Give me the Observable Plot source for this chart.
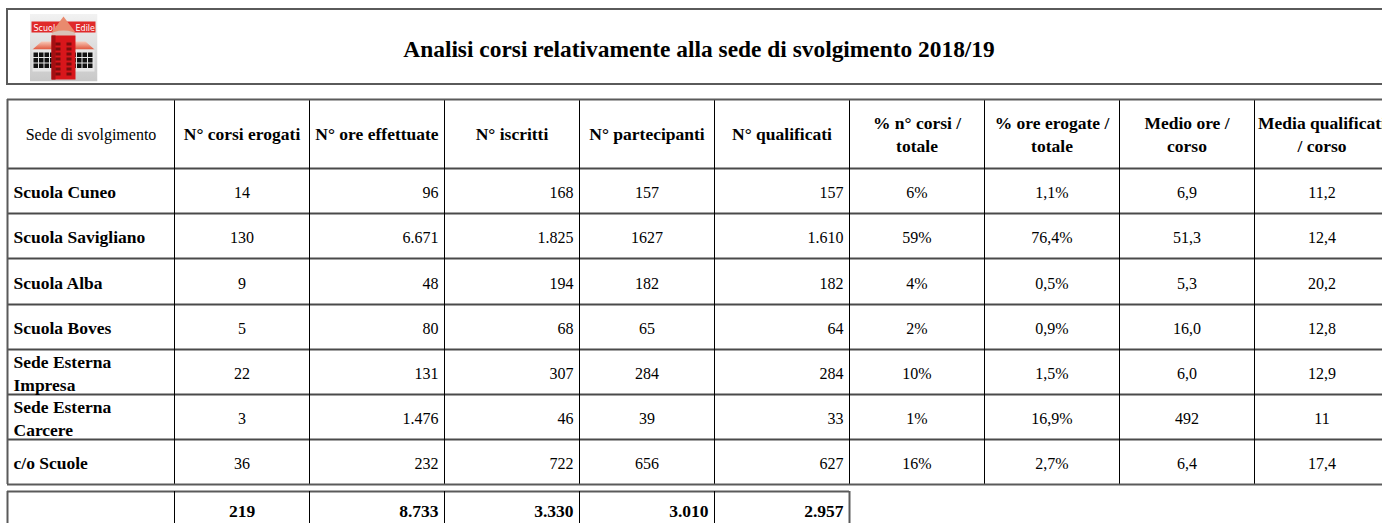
<!DOCTYPE html>
<html>
<head>
<meta charset="utf-8">
<script src="https://cdn.jsdelivr.net/npm/d3@7"></script>
<script src="https://cdn.jsdelivr.net/npm/@observablehq/plot@0.6"></script>
<style>
  html, body { margin: 0; padding: 0; background: #fff; }
  #chart svg { display: block; }
</style>
</head>
<body>
<div id="chart"></div>
<script>
// ---------- DATA ----------
const title = "Analisi corsi relativamente alla sede di svolgimento 2018/19";
const headers = [
  "Sede di svolgimento", "N° corsi erogati", "N° ore effettuate", "N° iscritti",
  "N° partecipanti", "N° qualificati", "% n° corsi /\ntotale", "% ore erogate /\ntotale",
  "Medio ore /\ncorso", "Media qualificati\n/ corso"
];
const sedi = ["Scuola Cuneo", "Scuola Savigliano", "Scuola Alba", "Scuola Boves",
  "Sede Esterna\nImpresa", "Sede Esterna\nCarcere", "c/o Scuole"];
const corsiErogati = ["14", "130", "9", "5", "22", "3", "36"];
const oreEffettuate = ["96", "6.671", "48", "80", "131", "1.476", "232"];
const iscritti = ["168", "1.825", "194", "68", "307", "46", "722"];
const partecipanti = ["157", "1627", "182", "65", "284", "39", "656"];
const qualificati = ["157", "1.610", "182", "64", "284", "33", "627"];
const pctCorsi = ["6%", "59%", "4%", "2%", "10%", "1%", "16%"];
const pctOre = ["1,1%", "76,4%", "0,5%", "0,9%", "1,5%", "16,9%", "2,7%"];
const medioOre = ["6,9", "51,3", "5,3", "16,0", "6,0", "492", "6,4"];
const mediaQualificati = ["11,2", "12,4", "20,2", "12,8", "12,9", "11", "17,4"];
const totali = ["", "219", "8.733", "3.330", "3.010", "2.957"];

// ---------- LAYOUT ----------
const colWidths = [167, 135, 135, 135, 135, 135, 135, 135, 135, 135];
const left = 7;
const edges = colWidths.reduce((a, w) => (a.push(a[a.length - 1] + w), a), [left]);
const align = ["start", "middle", "end", "end", "middle", "end", "middle", "middle", "middle", "middle"];
const totAlign = ["start", "middle", "end", "end", "end", "end"];
const pad = 6;
const tableTop = 99, headerBottom = 168, rowH = 45.2;
const rowEdges = d3.range(sedi.length + 1).map(i => Math.round(headerBottom + i * rowH));
const totalTop = 491, totalBottom = 540;
const titleTop = 9, titleBottom = 84, titleRight = 1390;
const font = "'Times New Roman', 'Liberation Serif', serif";
const fsize = {normal: 16, bold: 17.5};

const columns = [sedi, corsiErogati, oreEffettuate, iscritti, partecipanti, qualificati,
  pctCorsi, pctOre, medioOre, mediaQualificati];

function xFor(c, a) {
  if (a === "start") return edges[c] + pad;
  if (a === "end") return edges[c + 1] - pad;
  return (edges[c] + edges[c + 1]) / 2;
}

// Cells
const cells = [];
headers.forEach((h, c) => cells.push({text: h, x: (edges[c] + edges[c + 1]) / 2, y: (tableTop + headerBottom) / 2 - 1, anchor: "middle", weight: c > 0 ? "bold" : "normal"}));
columns.forEach((col, c) => col.forEach((v, r) => {
  cells.push({text: v, x: xFor(c, align[c]), y: (rowEdges[r] + rowEdges[r + 1]) / 2, anchor: align[c], weight: c === 0 ? "bold" : "normal"});
}));
totali.forEach((v, c) => cells.push({text: v, x: xFor(c, totAlign[c]), y: totalTop + 18, anchor: totAlign[c], weight: "bold"}));

const textMarks = [];
for (const anchor of ["start", "middle", "end"]) for (const weight of ["normal", "bold"]) {
  const subset = cells.filter(d => d.anchor === anchor && d.weight === weight && d.text !== "");
  if (subset.length) textMarks.push(Plot.text(subset, {x: "x", y: "y", text: "text", fontSize: fsize[weight],
    lineHeight: 23 / fsize[weight], textAnchor: anchor, fontWeight: weight, fill: "#000", fontFamily: font}));
}

// Lines
const right = edges[edges.length - 1];
const bottom = rowEdges[rowEdges.length - 1];
const hLines = rowEdges.slice(0, -1);
const vLines = edges.slice(1, -1);
const totV = edges.slice(1, 6);

// Logo (drawn as inline SVG image)
const win = (x0, y0) => {
  let s = "";
  for (let r = 0; r < 3; r++) for (let c = 0; c < 4; c++)
    s += `<rect x="${x0 + c * 5.5}" y="${y0 + r * 5.5}" width="4.5" height="4.5" fill="#111"/>`;
  return s;
};
let towerWin = "";
for (let r = 0; r < 7; r++) {
  towerWin += `<rect x="26" y="${29 + r * 5}" width="5" height="3" fill="#7a0d0d"/>`;
  towerWin += `<rect x="37" y="${29 + r * 5}" width="5" height="3" fill="#7a0d0d"/>`;
}
const logoSvg = `<svg xmlns="http://www.w3.org/2000/svg" width="68" height="68" viewBox="0 0 68 68">
<defs><linearGradient id="g" x1="0" y1="0" x2="0" y2="1"><stop offset="0" stop-color="#f2f2f2"/><stop offset="1" stop-color="#c8c8c8"/></linearGradient>
<linearGradient id="r" x1="0" y1="0" x2="0" y2="1"><stop offset="0" stop-color="#f7c9b8"/><stop offset="1" stop-color="#e0553b"/></linearGradient></defs>
<rect width="68" height="68" fill="url(#g)"/>
<rect x="2" y="8" width="64" height="11" fill="#e02a2a"/>
<text x="4" y="17" font-family="DejaVu Sans" font-size="8" fill="#fff">Scuola</text>
<text x="46" y="17" font-family="DejaVu Sans" font-size="8" fill="#fff">Edile</text>
<polygon points="3,36 12,28 56,28 65,36" fill="url(#r)"/>
<rect x="3" y="36" width="24" height="22" fill="#e6e6e6"/>
<rect x="41" y="36" width="24" height="22" fill="#e6e6e6"/>
${win(4, 39)}${win(42, 39)}
<polygon points="34,3 22,19 46,19" fill="#e98a6e"/>
<ellipse cx="34" cy="21" rx="12" ry="4" fill="#d9c2b8"/>
<rect x="22" y="22" width="24" height="44" fill="#d8161b"/>
<rect x="22" y="22" width="4" height="44" fill="#a40f12"/>
${towerWin}
</svg>`;
const logoSrc = "data:image/svg+xml;charset=utf-8," + encodeURIComponent(logoSvg);

const chart = Plot.plot({
  width: 1382,
  height: 523,
  margin: 0,
  x: {type: "identity", axis: null},
  y: {type: "identity", axis: null},
  style: {fontFamily: font, background: "#fff"},
  marks: [
    // title box
    Plot.rect([{}], {x1: left, x2: titleRight, y1: titleTop, y2: titleBottom, fill: "none", stroke: "#5a5a5a", strokeWidth: 2}),
    Plot.image([{}], {x: 63, y: 47, width: 68, height: 68, src: logoSrc}),
    Plot.text([title], {x: (left + titleRight) / 2, y: 49, text: d => d, fontSize: 23.4, fontWeight: "bold", fill: "#000", fontFamily: font}),
    // table lines
    Plot.ruleY(hLines, {x1: left, x2: right, stroke: "#4a4a4a", strokeWidth: 2}),
    Plot.ruleX(vLines, {y1: tableTop, y2: bottom, stroke: "#000", strokeWidth: 1}),
    Plot.ruleY([tableTop, bottom], {x1: left, x2: right, stroke: "#5a5a5a", strokeWidth: 2}),
    Plot.ruleX([left, right], {y1: tableTop, y2: bottom, stroke: "#5a5a5a", strokeWidth: 2}),
    // totals box
    Plot.ruleY([totalTop], {x1: left, x2: edges[6], stroke: "#5a5a5a", strokeWidth: 2}),
    Plot.ruleX(totV, {y1: totalTop, y2: totalBottom, stroke: "#000", strokeWidth: 1}),
    Plot.ruleX([left, edges[6]], {y1: totalTop, y2: totalBottom, stroke: "#5a5a5a", strokeWidth: 2}),
    ...textMarks
  ]
});
document.getElementById("chart").append(chart);
</script>
</body>
</html>
